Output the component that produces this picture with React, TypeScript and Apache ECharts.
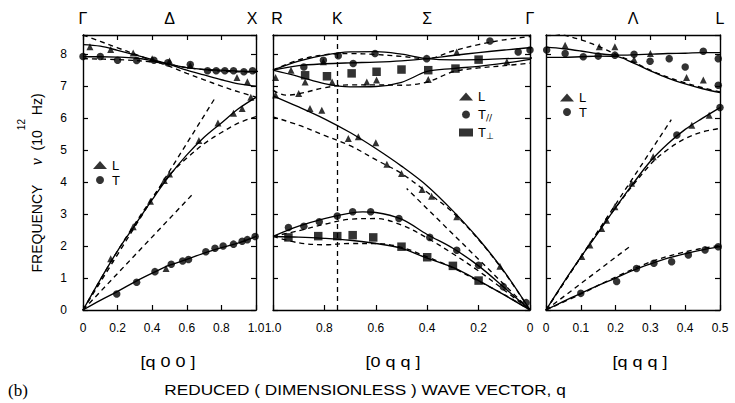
import React, { useEffect, useRef } from 'react';
import * as echarts from 'echarts';

// ---------- DATA ----------
// Panel 1: Γ–X  [q00], q from 0 to 1.0
const gxLSolid = [[0,0],[0.1,0.95],[0.2,1.85],[0.3,2.65],[0.4,3.45],[0.5,4.2],[0.6,4.85],[0.7,5.4],[0.8,5.85],[0.9,6.3],[1.0,6.65]];
const gxLDash = [[0,0],[0.2,1.85],[0.4,3.5],[0.5,4.22],[0.6,4.75],[0.7,5.2],[0.8,5.55],[0.9,5.85],[1.0,6.05]];
const gxLStraight = [[0,0],[0.76,6.6]];
const gxTSolid = [[0,0],[0.1,0.3],[0.2,0.58],[0.3,0.88],[0.4,1.15],[0.5,1.4],[0.6,1.58],[0.7,1.78],[0.8,1.95],[0.9,2.1],[1.0,2.3]];
const gxTStraight = [[0,0],[0.63,3.6]];
const gxUp1Solid = [[0,8.3],[0.1,8.25],[0.2,8.12],[0.3,7.98],[0.4,7.83],[0.5,7.68],[0.6,7.5],[0.7,7.35],[0.8,7.2],[0.9,7.07],[1.0,7.0]];
const gxUp2Solid = [[0,7.92],[0.1,7.92],[0.2,7.91],[0.3,7.88],[0.4,7.8],[0.5,7.68],[0.6,7.58],[0.7,7.52],[0.8,7.5],[0.9,7.47],[1.0,7.46],[1.1,7.5]];
const gxUp1Dash = [[0,8.6],[0.1,8.4],[0.2,8.2],[0.3,8.0],[0.4,7.8],[0.5,7.62],[0.6,7.4],[0.7,7.2],[0.8,7.0],[0.9,6.82],[1.0,6.66]];
const gxUp2Dash = [[0,7.86],[0.2,7.83],[0.4,7.76],[0.5,7.68],[0.6,7.58],[0.8,7.47],[1.0,7.44]];
const gxLPoints = [[0.16,1.6],[0.29,2.6],[0.39,3.4],[0.47,4.05],[0.5,4.25],[0.67,5.3],[0.78,5.85],[0.87,6.15],[0.92,6.3],[0.97,6.65],[0.04,8.23],[0.16,8.15],[0.29,8.04],[0.4,7.86],[0.5,7.79],[0.62,7.65],[0.89,7.27],[0.95,7.14],[0.48,1.3]];
const gxTPoints = [[0.195,0.5],[0.31,0.87],[0.416,1.2],[0.51,1.43],[0.576,1.53],[0.61,1.58],[0.71,1.82],[0.763,1.93],[0.81,2.0],[0.87,2.06],[0.92,2.15],[0.95,2.2],[0.995,2.3],[0,7.93],[0.1,7.93],[0.2,7.81],[0.31,7.8],[0.41,7.81],[0.49,7.73],[0.62,7.68],[0.72,7.48],[0.77,7.48],[0.82,7.48],[0.87,7.48],[0.93,7.45],[0.98,7.48]];

// Panel 2: R–K–Σ–Γ  [0qq], q from 1.0 down to 0
const kPoint = 0.75;
const rgLSolid = [[1.0,6.7],[0.9,6.35],[0.8,5.98],[0.7,5.55],[0.6,5.05],[0.5,4.5],[0.4,3.88],[0.3,3.1],[0.2,2.22],[0.1,1.2],[0,0]];
const rgLDash = [[1.0,6.04],[0.9,5.78],[0.8,5.46],[0.7,5.14],[0.6,4.7],[0.5,4.27],[0.4,3.68],[0.3,3.05],[0.2,2.2],[0.1,1.18],[0,0]];
const rgLStraight = [[0,0],[0.48,3.8]];
const rgTparSolid = [[1.0,2.3],[0.9,2.62],[0.8,2.86],[0.7,3.03],[0.65,3.07],[0.6,3.05],[0.5,2.84],[0.4,2.36],[0.3,1.93],[0.2,1.38],[0.1,0.7],[0,0]];
const rgTparDash = [[1.0,2.3],[0.9,2.48],[0.8,2.68],[0.7,2.84],[0.6,2.86],[0.5,2.66],[0.4,2.25],[0.3,1.76],[0.2,1.22],[0.1,0.62],[0,0]];
const rgTperSolid = [[1.0,2.3],[0.9,2.28],[0.8,2.24],[0.7,2.18],[0.6,2.08],[0.5,1.93],[0.4,1.62],[0.3,1.33],[0.2,0.92],[0.1,0.47],[0,0]];
const rgTperDash = [[1.0,2.3],[0.9,2.1],[0.8,2.04],[0.7,2.08],[0.6,2.08],[0.5,1.96],[0.4,1.66],[0.3,1.32],[0.2,0.9],[0.1,0.48],[0,0]];
const rgUpA = [[1.0,7.5],[0.9,7.78],[0.8,7.97],[0.7,8.07],[0.6,8.08],[0.5,8.0],[0.4,7.86],[0.3,7.82],[0.2,7.83],[0.1,7.86],[0,7.88],[-0.062,7.9]];
const rgUpB = [[1.0,7.5],[0.9,7.64],[0.8,7.7],[0.7,7.73],[0.6,7.75],[0.5,7.79],[0.4,7.86],[0.3,7.96],[0.2,8.05],[0.1,8.13],[0,8.2],[-0.062,8.22]];
const rgUpC = [[1.0,7.5],[0.9,7.3],[0.8,7.08],[0.7,6.98],[0.6,6.99],[0.5,7.12],[0.4,7.46],[0.3,7.55],[0.2,7.62],[0.1,7.72],[0,7.84]];
const rgUpDashP = [[1.0,7.5],[0.9,7.82],[0.8,7.98],[0.7,8.02],[0.6,7.99],[0.5,7.93],[0.4,7.86],[0.3,8.1],[0.2,8.3],[0.1,8.45],[0,8.55]];
const rgUpDashQ = [[1.0,6.87],[0.95,6.72],[0.9,6.76],[0.8,6.95],[0.7,7.04],[0.6,7.04],[0.5,7.03],[0.4,7.13],[0.3,7.45],[0.2,7.57],[0.1,7.64],[0,7.72]];
const rgLPoints = [[0.99,7.27],[0.93,7.5],[0.875,7.13],[0.77,7.13],[0.635,7.13],[0.597,7.19],[0.396,7.21],[0.285,8.07],[0.804,7.76],[0.09,7.76],[0.99,6.72],[0.9,6.77],[0.856,6.3],[0.81,6.25],[0.707,5.36],[0.668,5.42],[0.6,5.23],[0.557,4.56],[0.5,4.27],[0.42,3.77],[0.383,3.56],[0.285,2.92],[0.117,1.37]];
const rgTparPoints = [[0.88,7.6],[0.804,7.81],[0.746,7.95],[0.688,7.71],[0.603,8.02],[0.402,7.86],[0.156,8.41],[0.046,8.07],[0,8.13],[0.94,2.58],[0.88,2.62],[0.82,2.76],[0.75,2.94],[0.69,3.07],[0.62,3.07],[0.51,2.86],[0.39,2.27],[0.285,1.87],[0.2,1.4],[0.104,0.73],[0.015,0.23]];
const rgTperPoints = [[0.875,7.34],[0.79,7.31],[0.694,7.4],[0.597,7.45],[0.5,7.52],[0.396,7.5],[0.29,7.55],[0.2,7.83],[0.94,2.27],[0.824,2.31],[0.75,2.31],[0.69,2.34],[0.61,2.27],[0.5,1.98],[0.4,1.65],[0.3,1.38],[0.2,0.92]];

// Panel 3: Γ–Λ–L  [qqq], q from 0 to 0.5
const glLSolid = [[0,0],[0.05,0.85],[0.1,1.65],[0.15,2.42],[0.2,3.2],[0.25,3.95],[0.3,4.65],[0.35,5.2],[0.4,5.65],[0.45,6.0],[0.5,6.33]];
const glLDash = [[0,0],[0.1,1.65],[0.2,3.2],[0.3,4.55],[0.35,5.02],[0.4,5.36],[0.45,5.57],[0.5,5.68]];
const glLStraight = [[0,0],[0.36,5.95]];
const glTSolid = [[0,0],[0.05,0.27],[0.1,0.52],[0.15,0.77],[0.2,1.0],[0.25,1.24],[0.3,1.44],[0.35,1.62],[0.4,1.76],[0.45,1.88],[0.5,1.98]];
const glTDash = [[0,0],[0.1,0.5],[0.2,1.03],[0.3,1.5],[0.4,1.82],[0.5,2.02]];
const glTStraight = [[0,0],[0.24,1.98]];
const glUp1Solid = [[0,8.22],[0.05,8.17],[0.1,8.1],[0.15,8.02],[0.2,7.97],[0.25,7.98],[0.3,8.0],[0.35,8.02],[0.4,8.03],[0.45,8.05],[0.5,8.05]];
const glUp2Solid = [[0,7.9],[0.05,7.9],[0.1,7.92],[0.15,7.94],[0.2,7.93],[0.25,7.73],[0.3,7.48],[0.35,7.25],[0.4,7.07],[0.45,6.92],[0.5,6.8]];
const glUpDash = [[0,8.7],[0.05,8.6],[0.1,8.45],[0.15,8.25],[0.2,8.0],[0.25,7.76],[0.3,7.5],[0.35,7.28],[0.4,7.1],[0.45,6.95],[0.5,6.82]];
const glLPoints = [[0.103,1.67],[0.126,2.03],[0.16,2.55],[0.174,2.81],[0.198,3.23],[0.246,3.96],[0.308,4.79],[0.419,5.78],[0.469,6.09],[0.055,8.28],[0.153,8.23],[0.198,8.23],[0.253,7.83],[0.3,8.02],[0.404,7.27],[0.452,7.19]];
const glTPoints = [[0.1,0.52],[0.203,0.89],[0.26,1.3],[0.31,1.46],[0.361,1.51],[0.409,1.72],[0.457,1.88],[0.495,1.98],[0.376,5.47],[0.5,6.33],[0.002,8.13],[0.055,8.02],[0.107,7.92],[0.15,7.94],[0.198,7.97],[0.253,8.0],[0.299,7.78],[0.354,7.86],[0.4,7.6],[0.452,8.09],[0.495,7.86],[0.495,7.03]];

// Axis / legend labels
const yMax = 8.6;
const topSymbols1: Record<number, string> = { 0: '{c|Γ}', 50: '{c|Δ}', 100: '{l|X}' };
const topSymbols2: Record<number, string> = { 100: '{r|R}', 75: '{c|K}', 40: '{c|Σ}', 0: '{c|Γ}' };
const topSymbols3: Record<number, string> = { 25: '{c|Λ}', 50: '{c|L}' };
const legendNames1 = ['L', 'T'];
const legendNames2 = ['L', 'T∥', 'T⊥'];
const legendNames3 = ['L', 'T'];

// ---------- OPTION ----------
const FONT = "'Liberation Sans', Arial, Helvetica, sans-serif";
const BLACK = '#000';

const panels = [
  { grid: { left: 83, top: 35, width: 173, height: 275 }, min: 0, max: 1, interval: 0.2, inverse: false, sym: topSymbols1 },
  { grid: { left: 273, top: 35, width: 257, height: 275 }, min: 0, max: 1, interval: 0.2, inverse: true, sym: topSymbols2 },
  { grid: { left: 546, top: 35, width: 174, height: 275 }, min: 0, max: 0.5, interval: 0.1, inverse: false, sym: topSymbols3 },
];

const axisLine = { show: true, onZero: false, lineStyle: { color: BLACK, width: 1.4 } };
const axisTick = { show: true, inside: true, length: 5, lineStyle: { color: BLACK, width: 1.2 } };
const symStyle = { fontSize: 16, fontFamily: FONT, color: BLACK };

function legendLabelText(n: string) {
  if (n === 'T∥') return '{a|T}{s|//}';
  if (n === 'T⊥') return '{a|T}{s|⊥}';
  return `{a|${n}}`;
}

function buildOption() {
  const xAxis: any[] = [];
  const yAxis: any[] = [];
  panels.forEach((p, i) => {
    xAxis.push({
      type: 'value', gridIndex: i, position: 'bottom', min: p.min, max: p.max, interval: p.interval, inverse: p.inverse,
      axisLine, axisTick, splitLine: { show: false },
      axisLabel: { margin: 12, color: BLACK, fontSize: 12, fontFamily: FONT,
        formatter: (v: number) => (Math.abs(v) < 1e-9 ? '0' : v.toFixed(1)) },
    });
    xAxis.push({
      type: 'value', gridIndex: i, position: 'top', min: p.min, max: p.max, interval: p.interval, inverse: p.inverse,
      axisLine, axisTick, splitLine: { show: false }, axisLabel: { show: false },
    });
    xAxis.push({
      type: 'value', gridIndex: i, position: 'top', min: p.min, max: p.max, interval: 0.05, inverse: p.inverse,
      axisLine: { show: false, onZero: false }, axisTick: { show: false }, splitLine: { show: false },
      axisLabel: { margin: 9, color: BLACK, fontSize: 16, fontFamily: FONT, showMinLabel: true, showMaxLabel: true,
        rich: {
          c: { ...symStyle },
          l: { ...symStyle, padding: [0, 8, 0, 0] },
          r: { ...symStyle, padding: [0, 0, 0, 8] },
        },
        formatter: (v: number) => p.sym[Math.round(v * 100)] ?? '' },
    });
    yAxis.push({
      type: 'value', gridIndex: i, position: 'left', min: 0, max: yMax, interval: 1,
      axisLine, axisTick, splitLine: { show: false },
      axisLabel: { show: i === 0, margin: 16, color: BLACK, fontSize: 12, fontFamily: FONT,
        formatter: (v: number) => (Math.abs(v - Math.round(v)) < 1e-9 ? String(Math.round(v)) : '') },
    });
    yAxis.push({
      type: 'value', gridIndex: i, position: 'right', min: 0, max: yMax, interval: 1,
      axisLine, axisTick, splitLine: { show: false }, axisLabel: { show: false },
    });
  });

  const line = (data: number[][], g: number, dashed: boolean, extra: any = {}) => ({
    type: 'line', xAxisIndex: g * 3, yAxisIndex: g * 2, data, symbol: 'none', showSymbol: false,
    smooth: data.length > 2 ? 0.35 : false, silent: true, z: 2,
    lineStyle: { color: BLACK, width: 1.35, type: dashed ? [5, 4] : 'solid' },
    ...extra,
  });
  const pts = (name: string, data: number[][], g: number, symbol: string, size: number) => ({
    type: 'scatter', name, xAxisIndex: g * 3, yAxisIndex: g * 2, data, symbol, symbolSize: size,
    itemStyle: { color: BLACK }, silent: true, z: 3,
  });

  const series: any[] = [
    // panel 1
    line(gxLSolid, 0, false), line(gxLDash, 0, true), line(gxLStraight, 0, true),
    line(gxTSolid, 0, false), line(gxTStraight, 0, true),
    line(gxUp1Solid, 0, false), line(gxUp2Solid, 0, false, { clip: false }),
    line(gxUp1Dash, 0, true), line(gxUp2Dash, 0, true),
    pts('L', gxLPoints, 0, 'triangle', 7), pts('T', gxTPoints, 0, 'circle', 7.5),
    // panel 2
    line(rgLSolid, 1, false), line(rgLDash, 1, true), line(rgLStraight, 1, true),
    line(rgTparSolid, 1, false), line(rgTparDash, 1, true),
    line(rgTperSolid, 1, false, {
      markLine: { silent: true, symbol: ['none', 'none'], label: { show: false },
        lineStyle: { color: BLACK, width: 1.3, type: [5, 4] }, data: [{ xAxis: kPoint }] },
    }),
    line(rgTperDash, 1, true),
    line(rgUpA, 1, false, { clip: false }), line(rgUpB, 1, false, { clip: false }), line(rgUpC, 1, false),
    line(rgUpDashP, 1, true), line(rgUpDashQ, 1, true),
    pts('L', rgLPoints, 1, 'triangle', 7), pts('T∥', rgTparPoints, 1, 'circle', 7.5), pts('T⊥', rgTperPoints, 1, 'rect', 8.5),
    // panel 3
    line(glLSolid, 2, false), line(glLDash, 2, true), line(glLStraight, 2, true),
    line(glTSolid, 2, false), line(glTDash, 2, true), line(glTStraight, 2, true),
    line(glUp1Solid, 2, false), line(glUp2Solid, 2, false), line(glUpDash, 2, true),
    pts('L', glLPoints, 2, 'triangle', 7), pts('T', glTPoints, 2, 'circle', 7.5),
  ];

  // Legend icons from the library; legend words drawn as plain black text next to them
  const legendBase = {
    orient: 'vertical', padding: 0, itemWidth: 14, itemHeight: 8, selectedMode: false,
    textStyle: { color: BLACK, fontSize: 13 }, formatter: () => '',
  };
  const legendSpecs = [
    { left: 93, top: 161, gap: 7, names: legendNames1 },
    { left: 459, top: 92.5, gap: 10, names: legendNames2 },
    { left: 560, top: 93.5, gap: 6.5, names: legendNames3 },
  ];
  const legend = legendSpecs.map((s) => ({ ...legendBase, left: s.left, top: s.top, itemGap: s.gap, data: s.names }));

  const legendRich = {
    a: { fontSize: 13, fontFamily: FONT, fill: BLACK },
    s: { fontSize: 9, fontFamily: 'DejaVu Sans', fill: BLACK, verticalAlign: 'bottom', lineHeight: 16, padding: [6, 0, 0, 0] },
  };
  const legendTexts: any[] = [];
  legendSpecs.forEach((s) => {
    s.names.forEach((n, k) => {
      legendTexts.push({
        type: 'text', x: s.left + 19, y: s.top + 4 + k * (8 + s.gap),
        style: { text: legendLabelText(n), rich: legendRich, align: 'left', verticalAlign: 'middle' },
      });
    });
  });

  const graphic = [
    {
      type: 'text', x: 30, y: 183, rotation: Math.PI / 2,
      style: {
        text: '{a|FREQUENCY     }{n|ν}{a|  (10}{s|12}{a| Hz)}', align: 'center', verticalAlign: 'middle',
        rich: {
          a: { fontSize: 14, fontFamily: FONT, fill: BLACK, lineHeight: 28, verticalAlign: 'bottom' },
          n: { fontSize: 16, fontFamily: "'Liberation Serif', serif", fontStyle: 'italic', fill: BLACK, lineHeight: 28, verticalAlign: 'bottom' },
          s: { fontSize: 10, fontFamily: FONT, fill: BLACK, lineHeight: 28, verticalAlign: 'top' },
        },
      },
    },
    ...legendTexts,
    { type: 'text', x: 168, y: 362, scaleX: 1.2, style: { text: '[q 0 0 ]', fontSize: 15, fontFamily: FONT, fill: BLACK, align: 'center', verticalAlign: 'middle' } },
    { type: 'text', x: 393, y: 362, scaleX: 1.2, style: { text: '[0 q q ]', fontSize: 15, fontFamily: FONT, fill: BLACK, align: 'center', verticalAlign: 'middle' } },
    { type: 'text', x: 640, y: 362, scaleX: 1.2, style: { text: '[q q q ]', fontSize: 15, fontFamily: FONT, fill: BLACK, align: 'center', verticalAlign: 'middle' } },
    { type: 'text', x: 365, y: 390, scaleX: 1.23, style: { text: 'REDUCED ( DIMENSIONLESS ) WAVE VECTOR, q', fontSize: 14, fontFamily: FONT, fill: BLACK, align: 'center', verticalAlign: 'middle' } },
    { type: 'text', x: 8, y: 390, style: { text: '(b)', fontSize: 17, fontFamily: "'Liberation Serif', 'Times New Roman', serif", fill: BLACK, align: 'left', verticalAlign: 'middle' } },
  ];

  return {
    animation: false,
    backgroundColor: '#fff',
    grid: panels.map((p) => ({ ...p.grid, containLabel: false })),
    xAxis, yAxis, series, legend, graphic,
  };
}

export default function App() {
  const ref = useRef<HTMLDivElement>(null);
  useEffect(() => {
    if (!ref.current) return;
    const chart = echarts.init(ref.current, null, { renderer: 'svg' });
    chart.setOption(buildOption() as any);
    return () => chart.dispose();
  }, []);
  return <div ref={ref} style={{ position: 'absolute', left: 0, top: 0, width: 735, height: 403 }} />;
}
